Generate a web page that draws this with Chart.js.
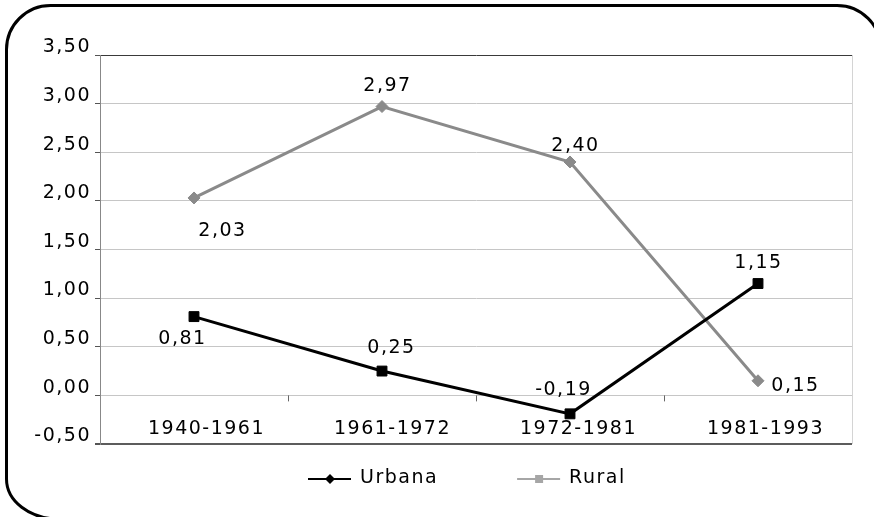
<!DOCTYPE html>
<html>
<head>
<meta charset="utf-8">
<script src="https://cdn.jsdelivr.net/npm/chart.js@4"></script>
<style>
html, body { margin: 0; padding: 0; background: #fff; overflow: hidden; }
</style>
</head>
<body>
<canvas id="growthChart" width="874" height="517"></canvas>
<script>
/** globals: Chart */

const periods = ['1940-1961', '1961-1972', '1972-1981', '1981-1993'];
const urbana = [0.81, 0.25, -0.19, 1.15];
const rural = [2.03, 2.97, 2.40, 0.15];
const yTicks = [-0.5, 0, 0.5, 1, 1.5, 2, 2.5, 3, 3.5];

// where each value label sits, relative to its point (dx, dy)
const urbanaLabelPos = [[-12, 22], [9, -23], [-7, -24], [0, -20]];
const ruralLabelPos = [[28, 33], [5, -20], [5, -16], [37, 5]];
// category names are drawn a little right of the category centre
const periodShift = [12, 10, 8, 7];

const SPACING = '1.5px';
const FONT = '19px "DejaVu Sans", sans-serif';
const comma = v => v.toFixed(2).replace('.', ',');

Chart.defaults.font.family = '"DejaVu Sans", sans-serif';
Chart.defaults.font.size = 19;
Chart.defaults.color = '#000';

// the original text is drawn wide, so space the letters a bit
const spacing = {
    id: 'spacing',
    beforeUpdate(chart) { chart.ctx.letterSpacing = SPACING; },
    beforeDraw(chart) { chart.ctx.letterSpacing = SPACING; }
};

// rounded box round the whole chart, running off the right and bottom edges
const outerBox = {
    id: 'outerBox',
    beforeDraw(chart) {
        const ctx = chart.ctx;
        const l = 6.5, t = 5.5, r = 881, b = 519;
        ctx.save();
        ctx.strokeStyle = '#000';
        ctx.lineWidth = 3;
        ctx.beginPath();
        ctx.moveTo(l + 44, t);
        ctx.lineTo(r - 44, t);
        ctx.arcTo(r, t, r, t + 44, 44);
        ctx.lineTo(r, b - 8);
        ctx.arcTo(r, b, r - 8, b, 8);
        ctx.lineTo(l + 52, b);
        ctx.ellipse(l + 52, b - 40, 52, 40, 0, Math.PI / 2, Math.PI);
        ctx.lineTo(l, t + 44);
        ctx.arcTo(l, t, l + 44, t, 44);
        ctx.closePath();
        ctx.stroke();
        ctx.restore();
    }
};

const plotFrame = {
    id: 'plotFrame',
    beforeDatasetsDraw(chart) {
        const ctx = chart.ctx;
        const area = chart.chartArea;
        const x = chart.scales.x;
        const y0 = chart.scales.y.getPixelForValue(0);
        ctx.save();
        ctx.strokeStyle = '#d4d4d4';
        ctx.lineWidth = 1;
        ctx.beginPath();
        ctx.moveTo(area.right + 0.5, area.top);
        ctx.lineTo(area.right + 0.5, area.bottom);
        ctx.stroke();
        ctx.strokeStyle = '#666';
        ctx.beginPath();
        for (let i = 0; i < periods.length - 1; i++) {
            const bx = Math.round((x.getPixelForValue(i) + x.getPixelForValue(i + 1)) / 2) + 0.5;
            ctx.moveTo(bx, y0);
            ctx.lineTo(bx, y0 + 6);
        }
        ctx.stroke();

        // category names sit inside the plot, just above the -0,50 line
        ctx.letterSpacing = SPACING;
        ctx.font = FONT;
        ctx.fillStyle = '#000';
        ctx.textAlign = 'center';
        ctx.textBaseline = 'middle';
        chart.data.labels.forEach((lab, i) => {
            ctx.fillText(lab, x.getPixelForValue(i) + periodShift[i] + 0.5, area.bottom - 15);
        });
        ctx.restore();
    }
};

const valueLabels = {
    id: 'valueLabels',
    afterDatasetsDraw(chart) {
        const ctx = chart.ctx;
        const positions = [urbanaLabelPos, ruralLabelPos];
        ctx.save();
        ctx.letterSpacing = SPACING;
        ctx.font = FONT;
        ctx.fillStyle = '#000';
        ctx.textAlign = 'center';
        ctx.textBaseline = 'middle';
        chart.data.datasets.forEach((ds, di) => {
            chart.getDatasetMeta(di).data.forEach((pt, i) => {
                const [dx, dy] = positions[di][i];
                ctx.fillText(comma(ds.data[i]), pt.x + dx + 0.5, pt.y + dy);
            });
        });
        ctx.restore();
    }
};

const bottomLegend = {
    id: 'bottomLegend',
    afterDraw(chart) {
        const ctx = chart.ctx;
        const area = chart.chartArea;
        const y = area.bottom + 34;
        let x = (area.left + area.right) / 2 - 168;
        const looks = [
            { color: '#000', marker: 'diamond' },
            { color: '#a6a6a6', marker: 'square' }
        ];
        ctx.save();
        ctx.letterSpacing = SPACING;
        ctx.font = FONT;
        ctx.textBaseline = 'middle';
        chart.data.datasets.forEach((ds, i) => {
            const look = looks[i];
            ctx.strokeStyle = look.color;
            ctx.fillStyle = look.color;
            ctx.lineWidth = 2;
            ctx.beginPath();
            ctx.moveTo(x, y + 1);
            ctx.lineTo(x + 43, y + 1);
            ctx.stroke();
            const mx = x + 22;
            if (look.marker === 'diamond') {
                ctx.beginPath();
                ctx.moveTo(mx, y - 4);
                ctx.lineTo(mx + 5, y + 1);
                ctx.lineTo(mx, y + 6);
                ctx.lineTo(mx - 5, y + 1);
                ctx.closePath();
                ctx.fill();
            } else {
                ctx.fillRect(mx - 4, y - 3, 8, 8);
            }
            ctx.fillStyle = '#000';
            ctx.fillText(ds.label, x + 52, y);
            x += 52 + ctx.measureText(ds.label).width + 79;
        });
        ctx.restore();
    }
};

const canvas = document.getElementById('growthChart');
const ctx = canvas.getContext('2d');
new Chart(ctx, {
    type: 'line',
    data: {
        labels: periods,
        datasets: [{
            label: 'Urbana',
            data: urbana,
            borderColor: '#000',
            backgroundColor: '#000',
            borderWidth: 3,
            pointStyle: 'rect',
            pointRadius: 7,
            pointBorderWidth: 1,
            tension: 0
        }, {
            label: 'Rural',
            data: rural,
            borderColor: '#8a8a8a',
            backgroundColor: '#8a8a8a',
            borderWidth: 3,
            pointStyle: 'rectRot',
            pointRadius: 6,
            pointBorderWidth: 1,
            tension: 0
        }]
    },
    options: {
        responsive: false,
        animation: false,
        events: [],
        layout: {
            padding: { left: 0, top: 55, right: 22, bottom: 73 }
        },
        plugins: {
            legend: { display: false },
            tooltip: { enabled: false }
        },
        scales: {
            x: {
                offset: true,
                grid: { display: false },
                border: { display: false },
                ticks: { display: false },
                afterFit: s => { s.height = 0; }
            },
            y: {
                min: -0.5,
                max: 3.5,
                afterBuildTicks: s => { s.ticks = yTicks.map(v => ({ value: v })); },
                afterFit: s => { s.width = 100; },
                border: { color: '#888', width: 1 },
                grid: {
                    color: c => c.tick.value === 3.5 ? '#3a3a3a' : (c.tick.value === -0.5 ? '#5c5c5c' : '#c6c6c6'),
                    lineWidth: c => c.tick.value === -0.5 ? 2 : 1,
                    tickColor: '#555',
                    tickLength: 5
                },
                ticks: {
                    padding: 4,
                    font: { lineHeight: 0.8 },
                    callback: v => [comma(v), '']
                }
            }
        }
    },
    plugins: [spacing, outerBox, plotFrame, valueLabels, bottomLegend]
});
</script>
</body>
</html>
